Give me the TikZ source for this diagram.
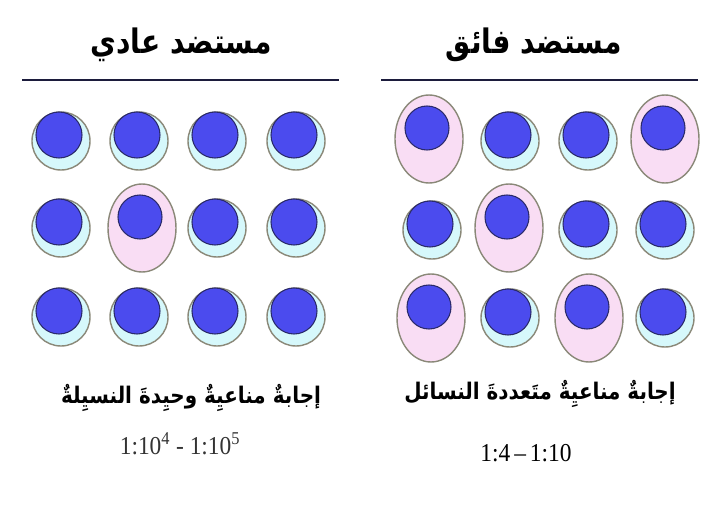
\documentclass[tikz,border=0pt]{standalone}
\usepackage{fontspec}
\setmainfont{Liberation Serif}
\newfontfamily\arabicfont[Script=Arabic]{DejaVu Sans}
\TeXXeTstate=1
\usetikzlibrary{positioning}
\definecolor{CoreBlue}{HTML}{4B4BEE}
\definecolor{CoreEdge}{HTML}{2A2A6A}
\definecolor{RestCyan}{HTML}{D6F8FB}
\definecolor{BlastPink}{HTML}{F9DDF4}
\definecolor{RimGray}{HTML}{8A8878}
\definecolor{RuleNavy}{HTML}{1C1C3C}

% resting lymphocyte: small cyan rim, nucleus near the top
\newcommand{\restcell}[2]{%
  \draw[rim, fill=RestCyan] (#1,#2) circle [radius=29];
  \draw[core] (#1-2,#2-6) circle [radius=23];}
% stimulated cell: large pink ellipse
\newcommand{\blastcell}[2]{%
  \draw[rim, fill=BlastPink] (#1,#2) ellipse [x radius=34, y radius=44];
  \draw[core] (#1-2,#2-11) circle [radius=22];}

\begin{document}
\begin{tikzpicture}[x=0.03cm, y=-0.03cm,
  rim/.style={draw=RimGray, line width=1.2pt},
  core/.style={draw=CoreEdge, line width=0.9pt, fill=CoreBlue},
  heading/.style={font=\arabicfont\bfseries\fontsize{24}{28}\selectfont,
    yscale=1.2, transform shape},
  caption/.style={font=\arabicfont\bfseries\fontsize{17}{20}\selectfont,
    yscale=1.15, transform shape},
  ratio/.style={font=\fontsize{20}{24}\selectfont, yscale=1.1, transform shape}
]
\useasboundingbox (0,0) rectangle (723,508);

% headings and rules
\node[heading] (normaltitle) at (181,45) {\beginR مستضد عادي\endR};
\node[heading] (supertitle) at (534,45) {\beginR مستضد فائق\endR};
\draw[RuleNavy, line width=2.2pt] (22,80) -- (339,80);
\draw[RuleNavy, line width=2.2pt] (381,80) -- (698,80);

% conventional antigen: one clone responds
\restcell{61}{141} \restcell{139}{141} \restcell{217}{141} \restcell{296}{141}
\restcell{61}{228} \blastcell{142}{228} \restcell{217}{228} \restcell{296}{228}
\restcell{61}{317} \restcell{139}{317} \restcell{217}{317} \restcell{296}{317}

% superantigen: many clones respond
\blastcell{429}{139} \restcell{510}{141} \restcell{588}{141} \blastcell{665}{139}
\restcell{432}{230} \blastcell{509}{228} \restcell{588}{230} \restcell{665}{230}
\blastcell{431}{318} \restcell{510}{318} \blastcell{589}{318} \restcell{665}{318}

% captions
\node[caption] (monoclonal) at (191,398) {\beginR إجابةٌ مناعيِةٌ وحيِدةَ النسيِلةٌ\endR};
\node[ratio, text=black!80] (monoratio) at (180,444) {1:10\textsuperscript{4} - 1:10\textsuperscript{5}};
\node[caption] (polyclonal) at (540,394) {\beginR إجابةٌ مناعيِةٌ متَعددةَ النسائل\endR};
\node[ratio] (polyratio) at (526,453) {1:4\,--\,1:10};
\end{tikzpicture}
\end{document}
